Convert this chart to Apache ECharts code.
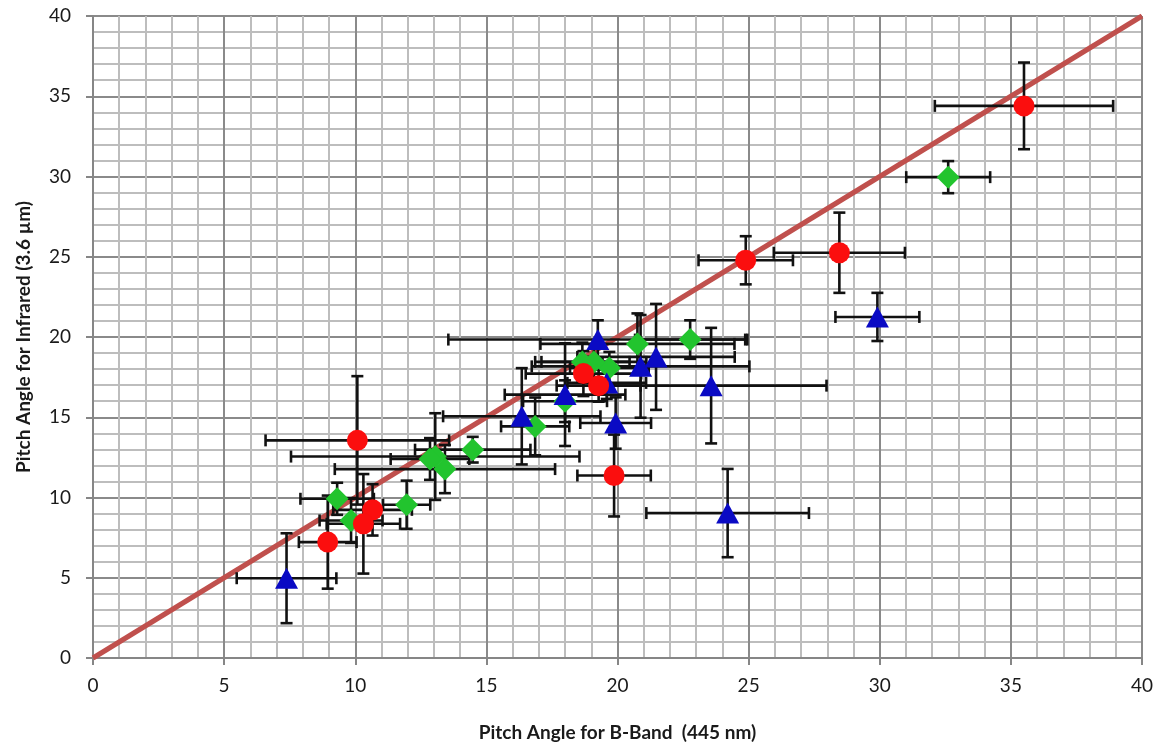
<!DOCTYPE html>
<html>
<head>
<meta charset="utf-8">
<script src="https://cdn.jsdelivr.net/npm/echarts@6/dist/echarts.min.js"></script>
<style>
html,body{margin:0;padding:0;background:#fff;}
#chart{width:1168px;height:752px;}
</style>
</head>
<body>
<div id="chart"></div>
<script>
// Data: [x, y] points and [xErr, yErr] symmetric error bars
var redPoints = [[35.5,34.4],[28.46,25.25],[24.89,24.78],[19.87,11.37],[19.28,16.97],[18.7,17.72],[10.08,13.56],[10.66,9.23],[10.31,8.36],[8.95,7.22]];
var redErr    = [[3.4,2.7],[2.5,2.5],[1.8,1.5],[1.4,2.55],[1.6,1.0],[2.2,1.4],[3.5,4.0],[1.5,1.6],[1.4,3.1],[1.1,2.9]];

var bluePoints = [[7.38,4.97],[16.35,15.06],[18.0,16.41],[19.25,19.84],[19.59,17.14],[19.93,14.64],[20.88,18.17],[21.47,18.76],[23.57,16.97],[24.2,9.03],[29.91,21.25]];
var blueErr    = [[1.9,2.8],[3.0,3.0],[2.3,3.2],[5.7,1.2],[1.5,1.0],[1.35,1.6],[4.15,3.2],[3.0,3.3],[4.4,3.6],[3.1,2.75],[1.6,1.5]];

var greenPoints = [[32.61,29.96],[22.77,19.84],[20.76,19.57],[19.69,18.07],[19.1,18.45],[18.66,18.45],[18.0,16.0],[16.86,14.43],[14.48,12.98],[13.42,11.77],[13.05,12.55],[12.85,12.4],[11.96,9.55],[9.84,8.57],[9.31,9.92]];
var greenErr    = [[1.6,1.0],[2.1,1.2],[3.7,1.9],[1.5,1.0],[2.0,1.1],[1.8,1.2],[1.6,1.3],[1.3,1.8],[2.2,0.8],[4.2,1.5],[5.5,2.7],[1.5,1.3],[0.9,1.5],[1.2,1.4],[1.4,1.0]];

var axisTicks = [0,5,10,15,20,25,30,35,40];
var oneToOne = [[0,0],[40,40]];

function errData(pts, err) {
  return pts.map(function(p, i){ return [p[0], p[1], err[i][0], err[i][1]]; });
}

function errRender(params, api) {
  var x = api.value(0), y = api.value(1), ex = api.value(2), ey = api.value(3);
  var c = api.coord([x, y]);
  var l = api.coord([x - ex, y]), r = api.coord([x + ex, y]);
  var t = api.coord([x, y + ey]), b = api.coord([x, y - ey]);
  var h = 6;
  var st = {stroke: '#111', lineWidth: 2.6};
  return {
    type: 'group',
    children: [
      {type:'line', shape:{x1:l[0],y1:c[1],x2:r[0],y2:c[1]}, style:st},
      {type:'line', shape:{x1:l[0],y1:c[1]-h,x2:l[0],y2:c[1]+h}, style:st},
      {type:'line', shape:{x1:r[0],y1:c[1]-h,x2:r[0],y2:c[1]+h}, style:st},
      {type:'line', shape:{x1:c[0],y1:t[1],x2:c[0],y2:b[1]}, style:st},
      {type:'line', shape:{x1:c[0]-h,y1:t[1],x2:c[0]+h,y2:t[1]}, style:st},
      {type:'line', shape:{x1:c[0]-h,y1:b[1],x2:c[0]+h,y2:b[1]}, style:st}
    ]
  };
}

function axisCommon() {
  return {
    type: 'value', min: 0, max: 40, interval: 5,
    axisLine: {show: true, onZero: false, lineStyle: {color: '#868686', width: 2}},
    axisTick: {show: true, inside: false, length: 7, lineStyle: {color: '#868686', width: 2}},
    axisLabel: {fontFamily: 'Lato, "Open Sans", sans-serif', fontSize: 19, color: '#1a1a1a'},
    splitLine: {show: true, lineStyle: {color: '#8a8a8a', width: 2}},
    minorTick: {show: false, splitNumber: 5},
    minorSplitLine: {show: true, lineStyle: {color: '#bdbdbd', width: 2}}
  };
}

var xAxis = axisCommon();
xAxis.name = 'Pitch Angle for B-Band  (445 nm)';
xAxis.nameLocation = 'middle';
xAxis.nameGap = 65;
xAxis.nameTextStyle = {fontFamily: 'Lato, "Open Sans", sans-serif', fontSize: 19, fontWeight: 'bold', color: '#1a1a1a'};
xAxis.axisLabel.margin = 18;

var yAxis = axisCommon();
yAxis.name = 'Pitch Angle for Infrared (3.6 µm)';
yAxis.nameLocation = 'middle';
yAxis.nameRotate = 90;
yAxis.nameGap = 60;
yAxis.nameTextStyle = {fontFamily: 'Lato, "Open Sans", sans-serif', fontSize: 19, fontWeight: 'bold', color: '#1a1a1a'};
yAxis.axisLabel.margin = 22;

var chart = echarts.init(document.getElementById('chart'), null, {renderer: 'canvas'});
chart.setOption({
  animation: false,
  backgroundColor: '#ffffff',
  grid: {left: 93, right: 26, top: 16, bottom: 94, containLabel: false},
  xAxis: xAxis,
  yAxis: yAxis,
  series: [
    {type: 'line', data: oneToOne, symbol: 'none', lineStyle: {color: '#c0504d', width: 5}, z: 1, silent: true},
    {type: 'custom', renderItem: errRender, data: errData(greenPoints, greenErr), encode: {x: 0, y: 1}, z: 2, silent: true},
    {type: 'custom', renderItem: errRender, data: errData(bluePoints, blueErr), encode: {x: 0, y: 1}, z: 2, silent: true},
    {type: 'custom', renderItem: errRender, data: errData(redPoints, redErr), encode: {x: 0, y: 1}, z: 2, silent: true},
    {type: 'scatter', data: greenPoints, symbol: 'diamond', symbolSize: [23, 23], itemStyle: {color: '#22c42e', opacity: 1}, z: 3},
    {type: 'scatter', data: bluePoints, symbol: 'triangle', symbolSize: [23, 21], itemStyle: {color: '#0a0ac4', opacity: 1}, z: 4},
    {type: 'scatter', data: redPoints, symbol: 'circle', symbolSize: 21, itemStyle: {color: '#fb0e0e', opacity: 1}, z: 5}
  ]
});
</script>
</body>
</html>
